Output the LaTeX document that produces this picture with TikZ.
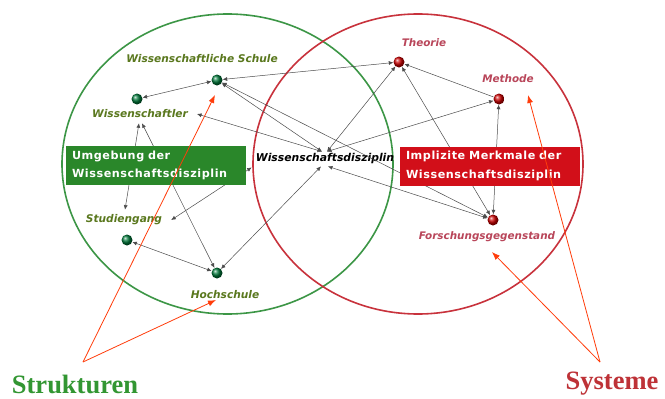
\documentclass[tikz,border=0pt]{standalone}
\usepackage{fontspec}
\setmainfont{DejaVu Sans}
\newfontfamily\labfont{DejaVu Sans}
\newfontfamily\boxfont[LetterSpace=5]{DejaVu Sans}
\newfontfamily\bigfont{Liberation Serif}
\usetikzlibrary{arrows.meta,shapes.geometric}
\definecolor{gcirc}{RGB}{60,150,70}
\definecolor{rcirc}{RGB}{200,50,60}
\definecolor{gboxc}{RGB}{42,135,42}
\definecolor{rboxc}{RGB}{210,15,25}
\definecolor{glab}{RGB}{90,120,30}
\definecolor{rlab}{RGB}{185,70,90}
\definecolor{strc}{RGB}{50,150,50}
\definecolor{sysc}{RGB}{190,50,55}
\definecolor{annc}{RGB}{255,60,10}
\tikzset{
  gball/.style={circle, minimum size=11pt, inner sep=0pt, ball color=green!35!teal!70!black},
  rball/.style={circle, minimum size=11pt, inner sep=0pt, ball color=red!80!black},
  bi/.style={draw=black!70, line width=0.5pt, {Latex[length=4.5pt,width=4pt]}-{Latex[length=4.5pt,width=4pt]}},
  uni/.style={draw=black!70, line width=0.5pt, -{Latex[length=4.5pt,width=4pt]}},
  glabel/.style={text=glab, font=\labfont\bfseries\itshape\fontsize{10.6}{12}\selectfont, inner sep=1pt},
  rlabel/.style={text=rlab, font=\labfont\bfseries\itshape\fontsize{10.4}{12}\selectfont, inner sep=1pt},
  wdlabel/.style={text=black, font=\labfont\bfseries\itshape\fontsize{10.8}{12}\selectfont, inner sep=2pt},
  boxstyle/.style={minimum width=180pt, minimum height=39pt, text width=168pt, inner xsep=6pt, align=left, text=white, font=\boxfont\bfseries\fontsize{11.2}{18.5}\selectfont},
  ann/.style={draw=annc, line width=0.8pt, -{Latex[length=8pt,width=6pt]}},
  bigtext/.style={font=\bigfont\bfseries\fontsize{26.5}{30}\selectfont, inner sep=0pt}
}
\begin{document}
\begin{tikzpicture}[x=1pt,y=-1pt]
\useasboundingbox (0,0) rectangle (665,399);
\fill[white] (0,0) rectangle (665,399);
% circles
\draw[gcirc, line width=1.6pt] (227.5,164) ellipse [x radius=165.5pt, y radius=150pt];
\draw[rcirc, line width=1.6pt] (418,164) ellipse [x radius=165pt, y radius=150pt];

% balls
\node[gball] (sch) at (217,80) {};
\node[gball] (wis) at (137,99) {};
\node[gball] (stu) at (127,240) {};
\node[gball] (hoc) at (217,273) {};
\node[rball] (the) at (399,62) {};
\node[rball] (met) at (499,99) {};
\node[rball] (for) at (493,220) {};

% labels
\node[glabel] (schl) at (202,59) {Wissenschaftliche Schule};
\node[glabel] (wl) at (140,114) {Wissenschaftler};
\node[glabel] (sl) at (124,220) {Studiengang};
\node[glabel] (hl) at (225,295) {Hochschule};
\node[rlabel] (tl) at (424,43) {Theorie};
\node[rlabel] (ml) at (508,79) {Methode};
\node[rlabel] (fl) at (487,237) {Forschungsgegenstand};
\node[wdlabel] (wd) at (325,159) {Wissenschaftsdisziplin};

% connectors
\draw[bi] (sch) -- (the);
\draw[bi] (sch) -- (wis);
\draw[bi] (sch) -- ([xshift=-3pt]wd.north);
\draw[bi] (sch) -- (for);
\draw[bi] ([xshift=8pt]wl.east) -- ([xshift=-3pt]wd.north);
\draw[bi] ([xshift=2pt]wd.north) -- (the);
\draw[bi] ([xshift=2pt]wd.north) -- (met);
\draw[uni] (met) -- (the);
\draw[bi] (the) -- (for);
\draw[bi] (met) -- (for);
\draw[bi] ([xshift=3pt]wd.south) -- (for);
\draw[bi] ([xshift=-4pt]wd.south) -- (hoc);
\draw[bi] ([xshift=-2pt,yshift=-1pt]wd.south west) -- ([xshift=8pt]sl.east);
\draw[bi] ([xshift=-1pt,yshift=-4pt]wl.south) -- ([xshift=1pt,yshift=4pt]sl.north);
\draw[bi] ([xshift=2pt,yshift=-4pt]wl.south) -- (hoc);
\draw[bi] (stu) -- (hoc);

% boxes
\node[boxstyle, fill=gboxc] (gb) at (156,165.5) {Umgebung der\\Wissenschaftsdisziplin};
\node[boxstyle, fill=rboxc] (rb) at (490,166) {Implizite Merkmale der\\Wissenschaftsdisziplin};

% bottom texts
\node[bigtext, text=strc] (str) at (75,384) {Strukturen};
\node[bigtext, text=sysc] (sys) at (612,384) {Systeme};
\coordinate (sa) at (83,362);
\coordinate (ya) at (600,362);
\coordinate (schA) at (215,95);
\coordinate (hocA) at (216,300);
\coordinate (metA) at (528,95);
\coordinate (forA) at (492,252);
\draw[ann] (sa) -- (schA);
\draw[ann] (sa) -- (hocA);
\draw[ann] (ya) -- (metA);
\draw[ann] (ya) -- (forA);
\end{tikzpicture}
\end{document}
